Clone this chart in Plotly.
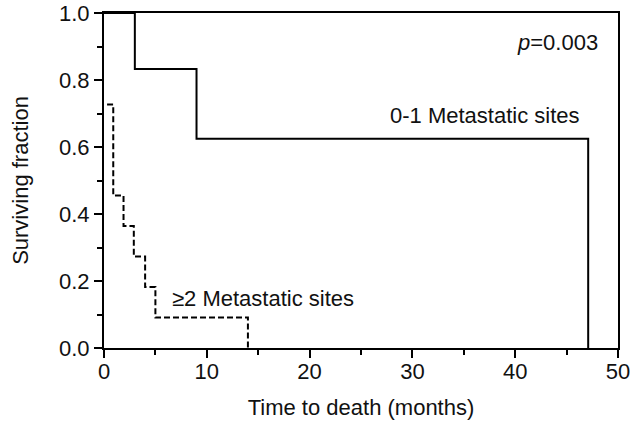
import plotly.graph_objects as go

# Kaplan-Meier step data
time_low = [0, 3, 9, 47.1]            # 0-1 metastatic sites
surv_low = [1.0, 0.833, 0.625, 0.0]
time_high = [0.3, 0.9, 1.9, 2.9, 4.0, 5.0, 14.0]   # >=2 metastatic sites
surv_high = [0.727, 0.455, 0.364, 0.273, 0.182, 0.091, 0.0]

label_low = "0-1 Metastatic sites"
label_high = "≥2 Metastatic sites"
p_text = "<i>p</i>=0.003"

FONT = "Liberation Sans, Arial, sans-serif"
FS = 22

fig = go.Figure()
fig.add_trace(go.Scatter(x=time_low, y=surv_low, mode="lines", line_shape="hv",
                         line=dict(color="black", width=2), showlegend=False))
fig.add_trace(go.Scatter(x=time_high, y=surv_high, mode="lines", line_shape="hv",
                         line=dict(color="black", width=2, dash="6px,3px"), showlegend=False))

fig.add_annotation(x=46.5, y=0.693, text=label_low, showarrow=False, xanchor="right",
                   font=dict(size=FS, color="#111", family=FONT))
fig.add_annotation(x=6.4, y=0.149, text=label_high, showarrow=False, xanchor="left",
                   font=dict(size=FS, color="#111", family=FONT))
fig.add_annotation(x=48.2, y=0.913, text=p_text, showarrow=False, xanchor="right",
                   font=dict(size=FS, color="#111", family=FONT))

fig.update_layout(
    width=641, height=429,
    margin=dict(l=104, r=23, t=13, b=81),
    plot_bgcolor="white", paper_bgcolor="white",
    font=dict(family=FONT, size=FS, color="#111"),
    xaxis=dict(range=[0, 50], dtick=10, tick0=0, showgrid=False, zeroline=False,
               showline=True, linecolor="black", linewidth=2, mirror=True, automargin=False,
               ticks="outside", ticklen=8, tickwidth=2, tickcolor="black",
               ticklabelstandoff=-5, ticklabeloverflow="allow",
               minor=dict(ticks="outside", dtick=5, ticklen=5, tickwidth=2, tickcolor="black"),
               title=dict(text="Time to death (months)", standoff=16, font=dict(size=FS)),
               tickfont=dict(size=FS)),
    yaxis=dict(range=[0, 1], dtick=0.2, tick0=0, tickformat=".1f", showgrid=False, zeroline=False,
               showline=True, linecolor="black", linewidth=2, mirror=True, automargin=False,
               ticks="outside", ticklen=8, tickwidth=2, tickcolor="black",
               ticklabeloverflow="allow",
               minor=dict(ticks="outside", dtick=0.1, ticklen=5, tickwidth=2, tickcolor="black"),
               title=dict(text="Surviving fraction", standoff=24, font=dict(size=FS)),
               tickfont=dict(size=FS)),
)

fig.write_html("out.html", config={"displayModeBar": False},
               post_script="document.body.style.margin='0';")
